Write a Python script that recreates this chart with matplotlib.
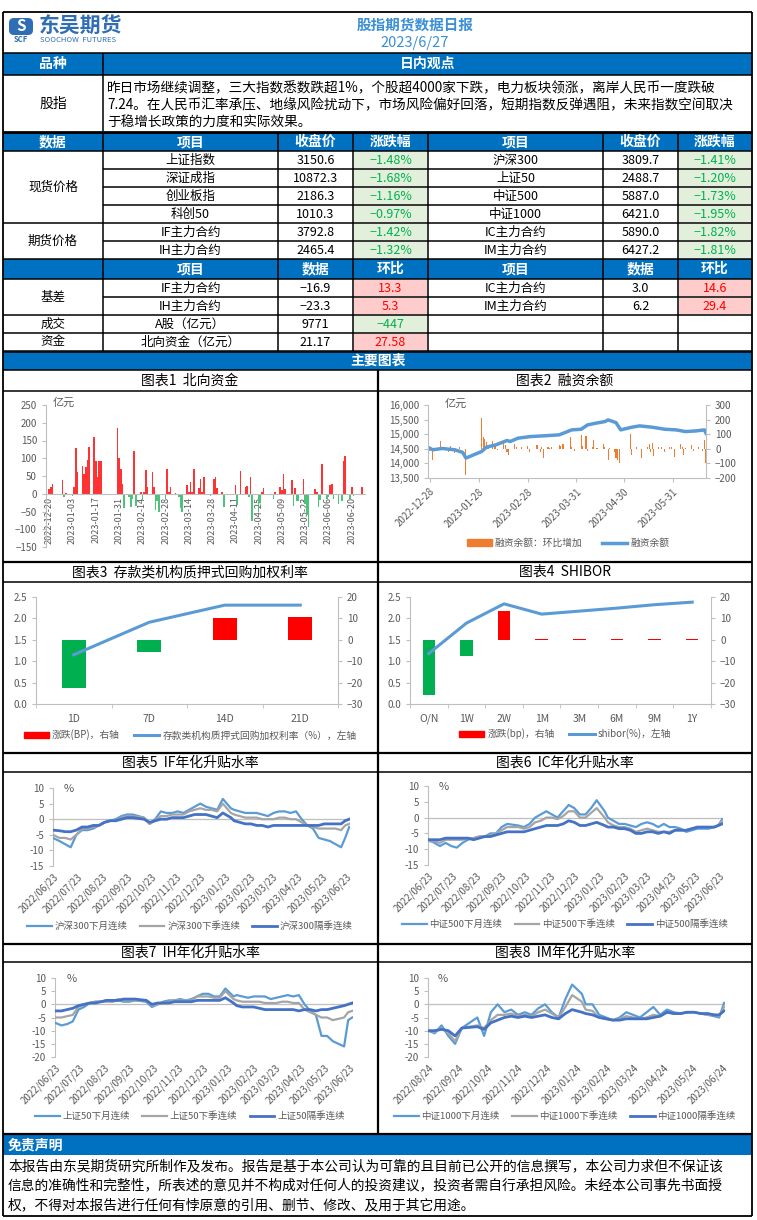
import numpy as np
import pandas as pd
import matplotlib

matplotlib.use('Agg')
import matplotlib.pyplot as plt
from matplotlib.patches import Rectangle, FancyBboxPatch
from matplotlib.lines import Line2D
from matplotlib.ticker import FuncFormatter

plt.rcParams['font.family'] = ['Noto Sans CJK SC', 'DejaVu Sans']

W, H = 757, 1220
BLUE = '#0070C0'
TITLE_BLUE = '#3A8FD6'
AX_C = '#BFBFBF'
TXT_C = '#595959'
RED_T, RED_BG = '#FF0000', '#FFCCCC'
GRN_T, GRN_BG = '#00B050', '#E2EFDA'
C_LIGHT, C_GRAY, C_DARK = '#5B9BD5', '#A5A5A5', '#4472C4'

# ---------------- table data ----------------
view_lines = [
  '昨日市场继续调整，三大指数悉数跌超1%，个股超4000家下跌，电力板块领涨，离岸人民币一度跌破',
  '7.24。在人民币汇率承压、地缘风险扰动下，市场风险偏好回落，短期指数反弹遇阻，未来指数空间取决',
  '于稳增长政策的力度和实际效果。',
]
spot_l_names = ['上证指数', '深证成指', '创业板指', '科创50']
spot_l_close = ['3150.6', '10872.3', '2186.3', '1010.3']
spot_l_chg = [-1.48, -1.68, -1.16, -0.97]
spot_r_names = ['沪深300', '上证50', '中证500', '中证1000']
spot_r_close = ['3809.7', '2488.7', '5887.0', '6421.0']
spot_r_chg = [-1.41, -1.20, -1.73, -1.95]
fut_l_names = ['IF主力合约', 'IH主力合约']
fut_l_close = ['3792.8', '2465.4']
fut_l_chg = [-1.42, -1.32]
fut_r_names = ['IC主力合约', 'IM主力合约']
fut_r_close = ['5890.0', '6427.2']
fut_r_chg = [-1.82, -1.81]
basis_l_names = ['IF主力合约', 'IH主力合约']
basis_l_val = ['-16.9', '-23.3']
basis_l_chg = ['13.3', '5.3']
basis_r_names = ['IC主力合约', 'IM主力合约']
basis_r_val = ['3.0', '6.2']
basis_r_chg = ['14.6', '29.4']
turnover = ['A股（亿元）', '9771', '-447']
northflow = ['北向资金（亿元）', '21.17', '27.58']
disclaimer_lines = [
  '本报告由东吴期货研究所制作及发布。报告是基于本公司认为可靠的且目前已公开的信息撰写，本公司力求但不保证该',
  '信息的准确性和完整性，所表述的意见并不构成对任何人的投资建议，投资者需自行承担风险。未经本公司事先书面授',
  '权，不得对本报告进行任何有悖原意的引用、删节、修改、及用于其它用途。',
]

# ---------------- chart 1: northbound flow ----------------
nb_dates = ['2022-12-20', '2022-12-21', '2022-12-22', '2022-12-28', '2022-12-29', '2022-12-30',
            '2023-01-03', '2023-01-04', '2023-01-05', '2023-01-06', '2023-01-09', '2023-01-10',
            '2023-01-11', '2023-01-12', '2023-01-13', '2023-01-16', '2023-01-17', '2023-01-18',
            '2023-01-19', '2023-01-20', '2023-01-30', '2023-01-31', '2023-02-01', '2023-02-02',
            '2023-02-03', '2023-02-06', '2023-02-07', '2023-02-08', '2023-02-09', '2023-02-10',
            '2023-02-13', '2023-02-14', '2023-02-15', '2023-02-16', '2023-02-17', '2023-02-20',
            '2023-02-21', '2023-02-22', '2023-02-23', '2023-02-24', '2023-02-28', '2023-03-01',
            '2023-03-02', '2023-03-03', '2023-03-06', '2023-03-08', '2023-03-09', '2023-03-10',
            '2023-03-13', '2023-03-14', '2023-03-15', '2023-03-16', '2023-03-17', '2023-03-20',
            '2023-03-21', '2023-03-22', '2023-03-23', '2023-03-27', '2023-03-29', '2023-03-30',
            '2023-03-31', '2023-04-03', '2023-04-04', '2023-04-11', '2023-04-12', '2023-04-14',
            '2023-04-17', '2023-04-18', '2023-04-19', '2023-04-20', '2023-04-21', '2023-04-25',
            '2023-04-26', '2023-04-27', '2023-04-28', '2023-05-04', '2023-05-05', '2023-05-08',
            '2023-05-09', '2023-05-10', '2023-05-11', '2023-05-15', '2023-05-16', '2023-05-17',
            '2023-05-18', '2023-05-19', '2023-05-22', '2023-05-23', '2023-05-24', '2023-05-25',
            '2023-05-29', '2023-05-30', '2023-05-31', '2023-06-01', '2023-06-02', '2023-06-05',
            '2023-06-06', '2023-06-07', '2023-06-08', '2023-06-09', '2023-06-12', '2023-06-14',
            '2023-06-15', '2023-06-16', '2023-06-19', '2023-06-20', '2023-06-21', '2023-06-26']
nb_vals = [12, 18, 28, 40, -10, 3,
           -5, 18, 128, 60, 77, 57,
           74, 94, 132, 159, 92, 46,
           92, 92, 184, 101, 69, 27,
           -40, -10, -38, -15, 121, -35,
           6, -20, 6, 68, 20, 60,
           18, -47, -20, -50, -15, 70,
           6, 20, 2, -10, -40, -52,
           26, 6, 33, 6, 70, 15,
           42, 5, 48, -5, 42, 48,
           15, 5, -37, 26, -33, 64,
           20, 22, -8, 46, -77, -50,
           -25, 6, 15, -15, 6, 20,
           10, 55, 13, 40, -35, 15,
           -20, -20, 42, -30, -60, -95,
           13, 6, -37, -18, 85, -15,
           -10, 25, 28, -15, -30, -20,
           91, 105, -15, 18, -5, 20]
nb_ticks = ['2022-12-20', '2023-01-03', '2023-01-17', '2023-01-31', '2023-02-14', '2023-02-28',
            '2023-03-14', '2023-03-28', '2023-04-11', '2023-04-25', '2023-05-09', '2023-05-23',
            '2023-06-06', '2023-06-20']

# ---------------- chart 2: margin balance ----------------
mb_dates = ['2022-12-28', '2022-12-30', '2023-01-05', '2023-01-13', '2023-01-18', '2023-01-20',
            '2023-01-30', '2023-02-02', '2023-02-08', '2023-02-15', '2023-02-17', '2023-02-22',
            '2023-03-02', '2023-03-10', '2023-03-20', '2023-03-28', '2023-04-03', '2023-04-07',
            '2023-04-12', '2023-04-18', '2023-04-20', '2023-04-25', '2023-04-28', '2023-05-05',
            '2023-05-10', '2023-05-18', '2023-05-26', '2023-06-02', '2023-06-08', '2023-06-15',
            '2023-06-20', '2023-06-21']
mb_vals = [14523, 14466, 14511, 14466, 14375, 14182,
           14409, 14557, 14636, 14784, 14750, 14864,
           14920, 14943, 14977, 15148, 15170, 15318,
           15375, 15432, 15489, 15398, 15148, 15239,
           15284, 15239, 15170, 15148, 15090, 15114,
           15148, 15034]
mc_dates = ['2022-12-28', '2022-12-30', '2023-01-04', '2023-01-06', '2023-01-09', '2023-01-10',
            '2023-01-13', '2023-01-16', '2023-01-20', '2023-01-30', '2023-01-31', '2023-02-01',
            '2023-02-02', '2023-02-03', '2023-02-06', '2023-02-07', '2023-02-08', '2023-02-09',
            '2023-02-13', '2023-02-14', '2023-02-15', '2023-02-16', '2023-02-20', '2023-02-21',
            '2023-02-24', '2023-02-28', '2023-03-01', '2023-03-06', '2023-03-08', '2023-03-09',
            '2023-03-10', '2023-03-13', '2023-03-14', '2023-03-15', '2023-03-20', '2023-03-21',
            '2023-03-22', '2023-03-23', '2023-03-27', '2023-03-28', '2023-03-30', '2023-04-03',
            '2023-04-04', '2023-04-06', '2023-04-07', '2023-04-10', '2023-04-11', '2023-04-13',
            '2023-04-17', '2023-04-18', '2023-04-20', '2023-04-21', '2023-04-24', '2023-04-25',
            '2023-04-26', '2023-04-27', '2023-05-04', '2023-05-05', '2023-05-08', '2023-05-11',
            '2023-05-15', '2023-05-16', '2023-05-17', '2023-05-18', '2023-05-19', '2023-05-22',
            '2023-05-24', '2023-05-26', '2023-05-29', '2023-05-30', '2023-06-01', '2023-06-05',
            '2023-06-06', '2023-06-07', '2023-06-08', '2023-06-12', '2023-06-13', '2023-06-16',
            '2023-06-19', '2023-06-20', '2023-06-21']
mc_vals = [-15, -80, 50, 15, -25, 20,
           -30, 10, -180, 210, 80, 70,
           45, 25, 55, 20, 25, -10,
           40, 25, -20, -40, 35, 15,
           15, 20, -25, 25, -20, 15,
           -60, 15, 5, 10, 25, 20,
           35, 35, 80, 10, -15, 95,
           20, 85, -15, 10, 60, 5,
           30, 10, -75, 5, -25, -60,
           -80, -100, 100, -40, 10, -60,
           10, 30, -25, 40, -50, 15,
           10, -25, 15, 10, -55, 30,
           15, -45, 5, 25, -15, 10,
           -15, 60, -95]
mb_ticks = ['2022-12-28', '2023-01-28', '2023-02-28', '2023-03-31', '2023-04-30', '2023-05-31']

# ---------------- chart 3 / 4 ----------------
repo_terms = ['1D', '7D', '14D', '21D']
repo_rate = [1.15, 1.91, 2.31, 2.31]
repo_chg = [-22.3, -5.7, 10.1, 10.8]
shibor_terms = ['O/N', '1W', '2W', '1M', '3M', '6M', '9M', '1Y']
shibor_rate = [1.18, 1.89, 2.34, 2.10, 2.17, 2.24, 2.32, 2.38]
shibor_chg = [-25.8, -7.6, 13.5, 0.3, 0.3, 0.5, 0.5, 0.6]

# ---------------- charts 5-8: annualised basis ----------------
wk_a = ['2022-06-23', '2022-07-01', '2022-07-08', '2022-07-15', '2022-07-22', '2022-07-29',
        '2022-08-05', '2022-08-12', '2022-08-19', '2022-08-26', '2022-09-02', '2022-09-09',
        '2022-09-16', '2022-09-23', '2022-09-30', '2022-10-14', '2022-10-21', '2022-10-28',
        '2022-11-04', '2022-11-11', '2022-11-18', '2022-11-25', '2022-12-02', '2022-12-09',
        '2022-12-16', '2022-12-23', '2022-12-30', '2023-01-06', '2023-01-13', '2023-01-20',
        '2023-01-30', '2023-02-03', '2023-02-10', '2023-02-17', '2023-02-24', '2023-03-03',
        '2023-03-10', '2023-03-17', '2023-03-24', '2023-03-31', '2023-04-07', '2023-04-14',
        '2023-04-21', '2023-04-28', '2023-05-05', '2023-05-12', '2023-05-19', '2023-05-26',
        '2023-06-02', '2023-06-09', '2023-06-16', '2023-06-21', '2023-06-26']
if_m1 = [-6, -7, -8, -9, -5, -3.5, -3.5, -3, -2, -1, -0.5, 0, 1, 1.5, 1.5, 0.5, -1.5, 0,
         2.5, 2, 2, 2.5, 2, 3, 4, 5, 4, 3.5, 3, 6.5, 3.5, 3, 2.5, 2, 2, 2, 1.5, 1, 2, 2.5,
         2.5, 2, 2.5, 0, -2, -3, -6, -6.5, -7, -8, -9, -6, -2.5]
if_q1 = [-5, -6, -6, -6.5, -5, -3, -3, -2.5, -2, -1, -0.5, -0.5, 0.5, 1, 1, 0.5, -1.5, -0.5,
         1, 1, 1.5, 1.5, 1.5, 2.5, 3, 3.5, 3, 3, 2.5, 5, 2, 1.5, 1, 0.5, 0.5, 0.5, 0, 0, 0, 0.5,
         0.5, 0, 0, -1, -2, -2.5, -3, -3, -3, -3, -3.5, -2, -1.5]
if_q2 = [-3.5, -3.7, -4, -4, -3.5, -2.5, -2.5, -2, -2, -1, -0.5, -0.5, 0, 0.5, 0.5, 0, -1, -0.5,
         0, 0, 0.5, 0.5, 0.5, 1, 1.5, 1.5, 1.5, 1, 0.5, 2, 0.5, -0.5, -1, -1.5, -1.5, -2, -2, -2.5,
         -2, -2, -2, -2, -2, -2, -2, -2, -2, -1.5, -1.5, -1.5, -1.5, -0.5, 0]
ic_m1 = [-7, -8, -9, -8, -9, -9.5, -8, -7, -6.5, -6, -6, -5, -5, -3, -2, -2.5, -3, -2,
         0, 1, 2, 1, 0, 2, 4, 3, 1, 1, 3, 5.5, 2, 0, -1, -2, -2, -2.5, -3, -2, -1.5, -2,
         -3, -2, -3, -3, -3.5, -4.5, -4, -3.5, -3.5, -3.5, -3, -2.5, -0.5]
ic_q1 = [-7.5, -7.5, -8, -7, -7, -7, -7, -6.5, -6.5, -6, -6, -5.5, -5, -4, -3, -3, -3.5, -3,
         -1.5, -1, 0, 0, -0.5, 0.5, 2, 2, 0, 0, 1.5, 3, 0, -1.5, -2.5, -3, -3, -3.5, -4.5, -4,
         -3.5, -4, -4.5, -4.5, -4.5, -4, -4, -4, -3.5, -3, -3, -3, -3, -2.5, -1]
ic_q2 = [-7, -7, -7, -6.5, -6.5, -6.5, -6.5, -6.5, -7, -6.5, -6, -6, -5.5, -5, -4.5, -4.5, -4.5, -4,
         -3.5, -3, -2.5, -2.5, -2.5, -2, -1, -1.5, -2.5, -2.5, -2, -1.5, -2.5, -3, -3, -3.5, -3.5,
         -4, -5, -5, -4.5, -4.5, -5, -4.5, -5, -4, -4, -4, -3.5, -3, -3, -3, -3, -2.5, -2]
ih_m1 = [-7, -8, -7.5, -6.5, -2, -1, 0.5, 1, 1, 1.5, 1, 1.5, 1, 1, 1.5, 1, -1, 0,
         1, 1.5, 1.5, 2, 1.5, 2, 3, 4, 4, 3, 3, 6, 3, 3.5, 3, 2.5, 3, 3, 3, 2, 2.5, 3,
         3.5, 3, 3.5, 0, -2.5, -4, -12, -12, -14, -15, -16, -6, -5]
ih_q1 = [-5, -5, -4.5, -4, -1, 0, 0.5, 1, 1, 1, 1, 2, 1.5, 1.5, 1.5, 1.5, -0.5, 0,
         0.5, 1, 1.5, 1.5, 1.5, 1.5, 3, 3, 3, 2.5, 2.5, 5, 2, 1.5, 1, 1, 1, 1, 0.5, 0.5, 0.5, 1,
         1, 0.5, 0.5, -2, -3, -4, -5, -5, -6, -5.5, -5, -3, -2.5]
ih_q2 = [-2.5, -2.5, -2, -1.5, -0.5, 0, 0.5, 0.5, 1, 1.5, 1.5, 1.5, 2, 2, 2, 1.5, 0, 0.5,
         0.5, 0.5, 1, 1, 1, 1, 1.5, 1.5, 1.5, 1.5, 1.5, 2.5, 0.5, -0.5, -1, -1, -1, -1.5, -2, -2,
         -2, -2, -2, -2, -2.5, -2, -2, -2.5, -2, -2, -1.5, -1, -0.5, 0, 0.5]
wk_b = ['2022-08-24', '2022-08-31', '2022-09-07', '2022-09-14', '2022-09-21', '2022-09-28',
        '2022-10-14', '2022-10-21', '2022-10-28', '2022-11-04', '2022-11-11', '2022-11-18',
        '2022-11-25', '2022-12-02', '2022-12-09', '2022-12-16', '2022-12-23', '2022-12-30',
        '2023-01-06', '2023-01-13', '2023-01-20', '2023-01-30', '2023-02-03', '2023-02-10',
        '2023-02-17', '2023-02-24', '2023-03-03', '2023-03-10', '2023-03-17', '2023-03-24',
        '2023-03-31', '2023-04-07', '2023-04-14', '2023-04-21', '2023-04-28', '2023-05-05',
        '2023-05-12', '2023-05-19', '2023-05-26', '2023-06-02', '2023-06-09', '2023-06-16',
        '2023-06-21', '2023-06-26']
im_m1 = [-10, -11, -8, -12, -15, -9, -5, -12, -3, 0, -3, -2, -4, -3, -4, -1.5, 0, -3,
         -5, 2, 7.5, 4, 0, 0, -4, -5, -6, -5, -3, -4, -5, -3, -1, -4, -2, -3, -3.5, -3,
         -3, -3.5, -4, -4.5, -5, 0.5]
im_q1 = [-10, -10.5, -9, -11, -14, -9, -8, -9, -6, -4, -4, -3.5, -4.5, -4, -4.5, -3, -2, -3.5,
         -5, -1, 3.5, 1, -2, -2.5, -5, -5.5, -6, -5.5, -4.5, -5, -5.5, -5, -4, -4.5, -3, -3.5,
         -3.5, -3, -3, -3.5, -4, -4, -4.5, -1]
im_q2 = [-10, -10, -9.5, -10, -12, -9, -8.5, -9.5, -7, -6, -5, -4.5, -5, -4.5, -5, -4.5, -4, -5,
         -5.5, -3.5, -2, -3, -3.5, -4, -5, -5.5, -6, -6, -5.5, -5.5, -5.5, -5.5, -5, -4.5, -3, -3.5,
         -3.5, -3, -3, -3.5, -3.5, -4, -4, -2.5]
ticks_a = ['2022-06-23', '2022-07-23', '2022-08-23', '2022-09-23', '2022-10-23', '2022-11-23',
           '2022-12-23', '2023-01-23', '2023-02-23', '2023-03-23', '2023-04-23', '2023-05-23',
           '2023-06-23']
ticks_b = ['2022-08-24', '2022-09-24', '2022-10-24', '2022-11-24', '2022-12-24', '2023-01-24',
           '2023-02-24', '2023-03-24', '2023-04-24', '2023-05-24', '2023-06-24']


fig = plt.figure(figsize=(W / 100, H / 100), dpi=100)
fig.patch.set_facecolor('white')

bg = fig.add_axes([0, 0, 1, 1])
bg.set_xlim(0, W)
bg.set_ylim(H, 0)
bg.axis('off')


def px_axes(x0, y0, x1, y1):
  return fig.add_axes([x0 / W, 1 - y1 / H, (x1 - x0) / W, (y1 - y0) / H])


def rect(x0, y0, x1, y1, fc):
  bg.add_patch(Rectangle((x0, y0), x1 - x0, y1 - y0, facecolor=fc, edgecolor='none', zorder=1))


def hline(y, x0=3, x1=752, lw=1.1):
  bg.plot([x0, x1], [y, y], color='black', lw=lw, zorder=3, solid_capstyle='butt')


def vline(x, y0, y1, lw=1.1):
  bg.plot([x, x], [y0, y1], color='black', lw=lw, zorder=3, solid_capstyle='butt')


def txt(x, y, s, size=9, color='black', ha='center', weight='normal'):
  bg.text(x, y, s, fontsize=size, color=color, ha=ha, va='center', fontweight=weight, zorder=4)


def chg_cell(x0, x1, y0, y1, s):
  # s is the printed value; its sign picks the colours
  up = not s.startswith('-')
  rect(x0 + 1, y0 + 1, x1 - 1, y1 - 1, RED_BG if up else GRN_BG)
  txt((x0 + x1) / 2, (y0 + y1) / 2, s.replace('-', '−'), color=RED_T if up else GRN_T)


# ---------------- header ----------------
hline(12, lw=1.3)
vline(3, 12, 1216, lw=1.3)
vline(752, 12, 1216, lw=1.3)
hline(1216, lw=1.3)
bg.add_patch(FancyBboxPatch((9, 18), 24, 17, boxstyle='round,pad=0,rounding_size=5',
                            facecolor='#2F6DB5', edgecolor='none', zorder=2))
txt(21, 26, 'S', size=11, color='white', weight='bold')
txt(21, 40, 'SCF', size=5.5, color='#2F6DB5', weight='bold')
txt(39, 26, '东吴期货', size=15, color='#2F6DB5', ha='left', weight='bold')
txt(40, 40, 'SOOCHOW  FUTURES', size=5.5, color='#2F6DB5', ha='left')
txt(415, 25, '股指期货数据日报', size=10.5, color=TITLE_BLUE, weight='bold')
txt(415, 43, '2023/6/27', size=10.5, color=TITLE_BLUE)

rect(3, 53, 752, 75, BLUE)
hline(53)
hline(75)
vline(103, 53, 131)
txt(53, 64, '品种', size=10, color='white', weight='bold')
txt(428, 64, '日内观点', size=10, color='white', weight='bold')
txt(53, 104, '股指', size=10)
for i, line in enumerate(view_lines):
  txt(107, 88 + 17 * i, line, size=9.8, ha='left')
hline(131.5, lw=2)

# ---------------- data table ----------------
xs = [3, 103, 278, 353, 428, 603, 678, 752]
ys = [133, 151, 169, 187, 205, 223, 241, 259, 279, 297, 315, 333, 351]
rect(3, ys[0], 752, ys[1], BLUE)
rect(3, ys[7], 752, ys[8], BLUE)
for j, s in enumerate(['数据', '项目', '收盘价', '涨跌幅', '项目', '收盘价', '涨跌幅']):
  txt((xs[j] + xs[j + 1]) / 2, (ys[0] + ys[1]) / 2, s, size=10, color='white', weight='bold')
for j, s in enumerate(['', '项目', '数据', '环比', '项目', '数据', '环比']):
  txt((xs[j] + xs[j + 1]) / 2, (ys[7] + ys[8]) / 2, s, size=10, color='white', weight='bold')


def cx(j):
  return (xs[j] + xs[j + 1]) / 2


def cy(i):
  return (ys[i] + ys[i + 1]) / 2


left_names = spot_l_names + fut_l_names
left_close = spot_l_close + fut_l_close
left_chg = spot_l_chg + fut_l_chg
right_names = spot_r_names + fut_r_names
right_close = spot_r_close + fut_r_close
right_chg = spot_r_chg + fut_r_chg
for k in range(6):
  i = k + 1
  txt(cx(1), cy(i), left_names[k])
  txt(cx(2), cy(i), left_close[k])
  chg_cell(xs[3], xs[4], ys[i], ys[i + 1], f'{left_chg[k]:.2f}%')
  txt(cx(4), cy(i), right_names[k])
  txt(cx(5), cy(i), right_close[k])
  chg_cell(xs[6], xs[7], ys[i], ys[i + 1], f'{right_chg[k]:.2f}%')
txt(cx(0), (ys[1] + ys[5]) / 2, '现货价格')
txt(cx(0), (ys[5] + ys[7]) / 2, '期货价格')

for k in range(2):
  i = k + 8
  txt(cx(1), cy(i), basis_l_names[k])
  txt(cx(2), cy(i), basis_l_val[k].replace('-', '−'))
  chg_cell(xs[3], xs[4], ys[i], ys[i + 1], basis_l_chg[k])
  txt(cx(4), cy(i), basis_r_names[k])
  txt(cx(5), cy(i), basis_r_val[k])
  chg_cell(xs[6], xs[7], ys[i], ys[i + 1], basis_r_chg[k])
txt(cx(0), ys[9], '基差')
txt(cx(0), cy(10), '成交')
txt(cx(1), cy(10), turnover[0])
txt(cx(2), cy(10), turnover[1])
chg_cell(xs[3], xs[4], ys[10], ys[11], turnover[2])
txt(cx(0), cy(11), '资金')
txt(cx(1), cy(11), northflow[0])
txt(cx(2), cy(11), northflow[1])
chg_cell(xs[3], xs[4], ys[11], ys[12], northflow[2])

merged_inner = {ys[2], ys[3], ys[4], ys[6], ys[9]}
for y in ys:
  hline(y, x0=xs[1] if y in merged_inner else 3)
for x in xs[1:-1]:
  vline(x, ys[0], ys[-1])

# ---------------- chart section frame ----------------
rect(3, 352, 752, 370, BLUE)
hline(352)
hline(370)
txt(378, 361, '主要图表', size=10, color='white', weight='bold')
for y in [391, 582, 772, 962]:
  hline(y)
for y in [562, 753, 944]:
  hline(y, lw=1.6)
vline(378, 370, 1134, lw=1.6)
titles = [('图表1  北向资金', 190, 381), ('图表2  融资余额', 565, 381),
          ('图表3  存款类机构质押式回购加权利率', 190, 572), ('图表4  SHIBOR', 565, 572),
          ('图表5  IF年化升贴水率', 190, 763), ('图表6  IC年化升贴水率', 565, 763),
          ('图表7  IH年化升贴水率', 190, 953), ('图表8  IM年化升贴水率', 565, 953)]
for s, x, y in titles:
  txt(x, y, s, size=10)

rect(3, 1134, 752, 1155, BLUE)
hline(1134, lw=1.6)
txt(8, 1145, '免责声明', size=10, color='white', ha='left', weight='bold')
for i, line in enumerate(disclaimer_lines):
  txt(8, 1166 + 19.5 * i, line, size=9.9, ha='left')


def base_style(ax):
  ax.set_facecolor('none')
  for s in ax.spines.values():
    s.set_visible(False)
  ax.tick_params(colors=TXT_C, labelsize=7, color=AX_C, length=3, width=0.8)


def show_spine(ax, side):
  ax.spines[side].set_visible(True)
  ax.spines[side].set_color(AX_C)


def legend_at(handles, labels, x, y, ncol, spacing=2.0, size=7):
  fig.legend(handles, labels, loc='center', bbox_to_anchor=(x / W, 1 - y / H), ncol=ncol,
             frameon=False, fontsize=size, handlelength=2.6, columnspacing=spacing,
             handletextpad=0.3, labelcolor=TXT_C)


# ---------------- chart 1 ----------------
ax1 = px_axes(46, 405, 365, 547)
base_style(ax1)
v1 = np.array(nb_vals)
ax1.bar(pd.to_datetime(nb_dates), v1, width=1.0,
        color=np.where(v1 >= 0, '#FF3333', '#4CC27A'), zorder=2)
ax1.set_ylim(-150, 250)
ax1.set_yticks(range(-150, 251, 50))
ax1.set_xlim(pd.Timestamp('2022-12-18'), pd.Timestamp('2023-06-28'))
show_spine(ax1, 'left')
show_spine(ax1, 'bottom')
ax1.spines['bottom'].set_position(('data', 0))
ax1.set_xticks(pd.to_datetime(nb_ticks))
ax1.set_xticklabels(nb_ticks, rotation=90, fontsize=6.5)
ax1.tick_params(axis='x', length=0, pad=2)
txt(53, 403, '亿元', size=8, color=TXT_C, ha='left')

# ---------------- chart 2 ----------------
ax2 = px_axes(428, 405, 706, 478)
base_style(ax2)
ax2l = ax2.twinx()
base_style(ax2l)
ax2.bar(pd.to_datetime(mc_dates), mc_vals, width=0.7, color='#ED7D31', zorder=2)
ax2.set_ylim(-200, 300)
ax2.set_yticks(range(-200, 301, 100))
ax2.yaxis.tick_right()
show_spine(ax2, 'right')
show_spine(ax2, 'bottom')
ax2l.yaxis.tick_left()
show_spine(ax2l, 'left')
ax2l.plot(pd.to_datetime(mb_dates), mb_vals, color=C_LIGHT, lw=2.5)
ax2l.set_ylim(13500, 16000)
ax2l.set_yticks(range(13500, 16001, 500))
ax2l.yaxis.set_major_formatter(FuncFormatter(lambda v, p: f'{v:,.0f}'))
ax2.set_xlim(pd.Timestamp('2022-12-27'), pd.Timestamp('2023-06-21'))
ax2.set_xticks(pd.to_datetime(mb_ticks))
ax2.set_xticklabels(mb_ticks, rotation=45, ha='right', rotation_mode='anchor')
ax2.tick_params(axis='x', length=3, pad=3)
txt(445, 404, '亿元', size=8, color=TXT_C, ha='left')
legend_at([Rectangle((0, 0), 1, 1, color='#ED7D31'), Line2D([], [], color=C_LIGHT, lw=2.5)],
          ['融资余额：环比增加', '融资余额'], 568, 543, 2)


# ---------------- charts 3, 4 ----------------
def bar_line_chart(box, cats, rate, chg, width, leg_labels, leg_xy):
  ax = px_axes(*box)
  base_style(ax)
  axl = ax.twinx()
  base_style(axl)
  x = np.arange(len(cats))
  ax.bar(x, chg, width=width, color=['#FF0000' if v > 0 else '#00B050' for v in chg], zorder=2)
  ax.set_ylim(-30, 20)
  ax.set_yticks(range(-30, 21, 10))
  ax.yaxis.tick_right()
  ax.set_xlim(-0.5, len(cats) - 0.5)
  ax.set_xticks(x)
  ax.set_xticklabels(cats)
  ax.set_xticks(np.arange(len(cats) + 1) - 0.5, minor=True)
  ax.tick_params(axis='x', which='major', length=0, pad=7, labelsize=7.5)
  ax.tick_params(axis='x', which='minor', length=3, color=AX_C)
  show_spine(ax, 'right')
  show_spine(ax, 'bottom')
  axl.yaxis.tick_left()
  show_spine(axl, 'left')
  axl.plot(x, rate, color=C_LIGHT, lw=2.2)
  axl.set_ylim(0, 2.5)
  axl.set_yticks(np.arange(0, 2.51, 0.5))
  axl.yaxis.set_major_formatter(FuncFormatter(lambda v, p: f'{v:.1f}'))
  legend_at([Rectangle((0, 0), 1, 1, color='#FF0000'), Line2D([], [], color=C_LIGHT, lw=2.2)],
            leg_labels, leg_xy[0], leg_xy[1], 2, spacing=1.5)


bar_line_chart((36, 597, 338, 704), repo_terms, repo_rate, repo_chg, 0.32,
               ['涨跌(BP)，右轴', '存款类机构质押式回购加权利率（%），左轴'], (190, 735))
bar_line_chart((410, 597, 711, 704), shibor_terms, shibor_rate, shibor_chg, 0.33,
               ['涨跌(bp)，右轴', 'shibor(%)，左轴'], (565, 734))


# ---------------- charts 5-8 ----------------
def basis_chart(box, dates, s1, s2, s3, ylo, ticks, names, leg_xy, pct_xy):
  ax = px_axes(*box)
  base_style(ax)
  d = pd.to_datetime(dates)
  ax.axhline(0, color=AX_C, lw=0.9, zorder=1)
  ax.plot(d, s1, color=C_LIGHT, lw=1.6, zorder=3)
  ax.plot(d, s2, color=C_GRAY, lw=1.6, zorder=3)
  ax.plot(d, s3, color=C_DARK, lw=2.0, zorder=4)
  ax.set_ylim(ylo, 10)
  ax.set_yticks(range(ylo, 11, 5))
  ax.yaxis.set_major_formatter(FuncFormatter(lambda v, p: f'{v:.0f}'))
  show_spine(ax, 'left')
  ax.set_xlim(pd.Timestamp(dates[0]), pd.Timestamp('2023-06-27'))
  ax.set_xticks(pd.to_datetime(ticks))
  ax.set_xticklabels([t.replace('-', '/') for t in ticks], rotation=45, ha='right',
                     rotation_mode='anchor')
  ax.tick_params(axis='x', length=0, pad=4)
  txt(pct_xy[0], pct_xy[1], '%', size=8, color=TXT_C, ha='left')
  legend_at([Line2D([], [], color=C_LIGHT, lw=1.6), Line2D([], [], color=C_GRAY, lw=1.6),
             Line2D([], [], color=C_DARK, lw=2.0)], names, leg_xy[0], leg_xy[1], 3,
            spacing=1.3, size=6.8)


basis_chart((53, 788, 350, 866), wk_a, if_m1, if_q1, if_q2, -15, ticks_a,
            ['沪深300下月连续', '沪深300下季连续', '沪深300隔季连续'], (190, 926), (64, 789))
basis_chart((428, 786, 723, 865), wk_a, ic_m1, ic_q1, ic_q2, -15, ticks_a,
            ['中证500下月连续', '中证500下季连续', '中证500隔季连续'], (565, 924), (439, 787))
basis_chart((55, 978, 353, 1057), wk_a, ih_m1, ih_q1, ih_q2, -20, ticks_a,
            ['上证50下月连续', '上证50下季连续', '上证50隔季连续'], (190, 1116), (67, 979))
basis_chart((428, 978, 725, 1057), wk_b, im_m1, im_q1, im_q2, -20, ticks_b,
            ['中证1000下月连续', '中证1000下季连续', '中证1000隔季连续'], (565, 1116), (438, 979))

fig.savefig('out.png', dpi=100)
